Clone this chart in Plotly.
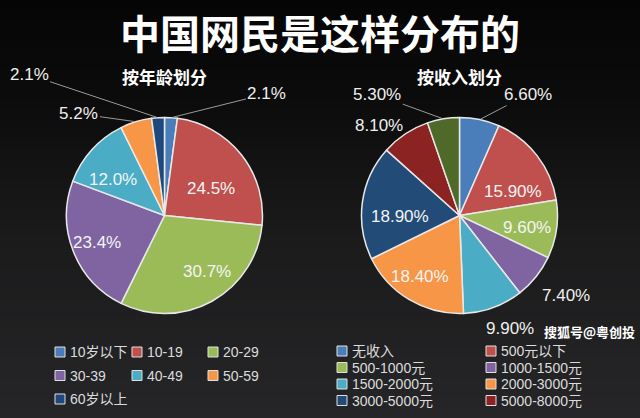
import math
import plotly.graph_objects as go

# ---------------- data ----------------
title_text = "中国网民是这样分布的"
age_title = "按年龄划分"
income_title = "按收入划分"
watermark = "搜狐号@粤创投"

age_labels = ["10岁以下", "10-19", "20-29", "30-39", "40-49", "50-59", "60岁以上"]
age_values = [2.1, 24.5, 30.7, 23.4, 12.0, 5.2, 2.1]

income_labels = ["无收入", "500元以下", "500-1000元", "1000-1500元", "1500-2000元",
                 "2000-3000元", "3000-5000元", "5000-8000元", "8000元以上"]
income_values = [6.6, 15.9, 9.6, 7.4, 9.9, 18.4, 18.9, 8.1, 5.3]

# ---------------- styles ----------------
W, H = 640, 418
FONT = "Liberation Sans, Noto Sans CJK SC, sans-serif"
CJK = "Noto Sans CJK SC, sans-serif"

age_colors = ["#4a7ebb", "#c0504d", "#9bbb59", "#8064a2", "#4bacc6", "#f79646", "#1f497d"]
income_colors = ["#4a7ebb", "#c0504d", "#9bbb59", "#8064a2", "#4bacc6", "#f79646",
                 "#234b78", "#8b2323", "#4f6a28"]

# pie geometry in pixels (center x, center y, radius)
age_geo = (164.5, 215.5, 98)
income_geo = (459.5, 215.5, 98)

# inside labels: index -> (radius fraction, angle shift in degrees)
age_in = {1: (0.55, 8), 2: (0.72, -8), 3: (0.74, 0), 4: (0.64, -7)}
income_in = {1: (0.60, 14), 2: (0.70, 2), 5: (0.74, 2), 6: (0.61, -9)}

# outside labels: index -> (ax, ay, draw_line) offsets in px from slice edge
age_out = {0: (96, -24, True), 6: (-129, -43, True), 5: (-57, -8, True)}
income_out = {0: (48, -25, True), 8: (-66, -24, True), 7: (-26, -8, False),
              3: (30, 19, False), 4: (17, 21, False)}

# legend grid (px)
age_leg = dict(cols=[55, 132, 208], y0=352, dy=23.5)
income_leg = dict(cols=[337, 486], y0=351, dy=16.5)


def domain(geo):
    cx, cy, r = geo
    return dict(x=[(cx - r) / W, (cx + r) / W], y=[(H - cy - r) / H, (H - cy + r) / H])


def slice_point(values, i, geo, frac=1.0, dangle=0.0):
    cx, cy, r = geo
    total = sum(values)
    mid = (sum(values[:i]) + values[i] / 2) / total * 2 * math.pi + math.radians(dangle)
    return cx + frac * r * math.sin(mid), cy - frac * r * math.cos(mid)


fig = go.Figure()
for labels, values, colors, geo in [(age_labels, age_values, age_colors, age_geo),
                                    (income_labels, income_values, income_colors, income_geo)]:
    fig.add_trace(go.Pie(
        labels=labels, values=values, sort=False, direction="clockwise", rotation=0,
        domain=domain(geo), marker=dict(colors=colors, line=dict(color="#e8e8e8", width=1.5)),
        textinfo="none", showlegend=False, hoverinfo="label+value",
    ))

annotations = []
shapes = []

# background gradient bands
stops = [(0.0, (5, 5, 5)), (0.25, (12, 12, 12)), (0.55, (26, 26, 27)), (1.0, (38, 38, 40))]


def grad(t):
    for (t0, c0), (t1, c1) in zip(stops[:-1], stops[1:]):
        if t0 <= t <= t1:
            f = (t - t0) / (t1 - t0)
            return "rgb(%d,%d,%d)" % tuple(round(a + (b - a) * f) for a, b in zip(c0, c1))
    return "rgb(%d,%d,%d)" % stops[-1][1]


n = 42
for k in range(n):
    y0 = 1 - k / n
    y1 = 1 - (k + 1) / n
    shapes.append(dict(type="rect", xref="paper", yref="paper", x0=0, x1=1, y0=y1, y1=y0 + 0.002,
                       fillcolor=grad((k + 0.5) / n), line=dict(width=0), layer="below"))

# titles
annotations.append(dict(text="<b>%s</b>" % title_text, x=0.5, y=1 - 32 / H, xref="paper", yref="paper",
                        showarrow=False, font=dict(family=CJK, size=40, color="#ffffff"),
                        xanchor="center", yanchor="middle"))
for txt, geo in [(age_title, age_geo), (income_title, income_geo)]:
    annotations.append(dict(text="<b>%s</b>" % txt, x=geo[0] / W, y=1 - 76 / H, xref="paper", yref="paper",
                            showarrow=False, font=dict(family=CJK, size=17, color="#ffffff"),
                            xanchor="center", yanchor="middle"))

for values, geo, ins, outs, fmt in [(age_values, age_geo, age_in, age_out, "{:.1f}%"),
                                    (income_values, income_geo, income_in, income_out, "{:.2f}%")]:
    # inside labels
    for i, (frac, dang) in ins.items():
        px, py = slice_point(values, i, geo, frac, dang)
        annotations.append(dict(
            text=fmt.format(values[i]), x=px / W, y=1 - py / H, xref="paper", yref="paper",
            showarrow=False, xanchor="center", yanchor="middle",
            font=dict(family=FONT, size=17, color="#f4f4f4"),
        ))
    # outside labels
    for i, (ax, ay, line) in outs.items():
        px, py = slice_point(values, i, geo)
        annotations.append(dict(
            text=fmt.format(values[i]), x=px / W, y=1 - py / H, xref="paper", yref="paper",
            showarrow=True, ax=ax, ay=ay, axref="pixel", ayref="pixel",
            arrowhead=0, arrowwidth=1, standoff=1,
            arrowcolor="#9a9a9a" if line else "rgba(0,0,0,0)",
            font=dict(family=FONT, size=17, color="#efefef"),
        ))

# legends
for labels, colors, leg in [(age_labels, age_colors, age_leg), (income_labels, income_colors, income_leg)]:
    ncol = len(leg["cols"])
    for i, lab in enumerate(labels):
        col, row = i % ncol, i // ncol
        mx = leg["cols"][col]
        my = leg["y0"] + row * leg["dy"]
        if my + 6 > H:
            continue
        shapes.append(dict(type="rect", xref="paper", yref="paper",
                           x0=mx / W, x1=(mx + 10) / W, y0=1 - (my + 5) / H, y1=1 - (my - 5) / H,
                           fillcolor=colors[i], line=dict(color="#e0e0e0", width=1)))
        annotations.append(dict(text=lab, x=(mx + 13) / W, y=1 - my / H, xref="paper", yref="paper",
                                showarrow=False, xanchor="left", yanchor="middle",
                                font=dict(family=FONT, size=14, color="#dcdcdc")))

# watermark (lower right, kept clear of the legend)
annotations.append(dict(text="<b>%s</b>" % watermark, x=637 / W, y=1 - 331 / H, xref="paper", yref="paper",
                        showarrow=False, xanchor="right", yanchor="middle",
                        font=dict(family=CJK, size=13, color="#ffffff")))

fig.update_layout(
    width=W, height=H, margin=dict(l=0, r=0, t=0, b=0, autoexpand=False),
    paper_bgcolor="#151515", plot_bgcolor="#151515",
    shapes=shapes, annotations=annotations, showlegend=False,
)

fig.write_html("out.html")
